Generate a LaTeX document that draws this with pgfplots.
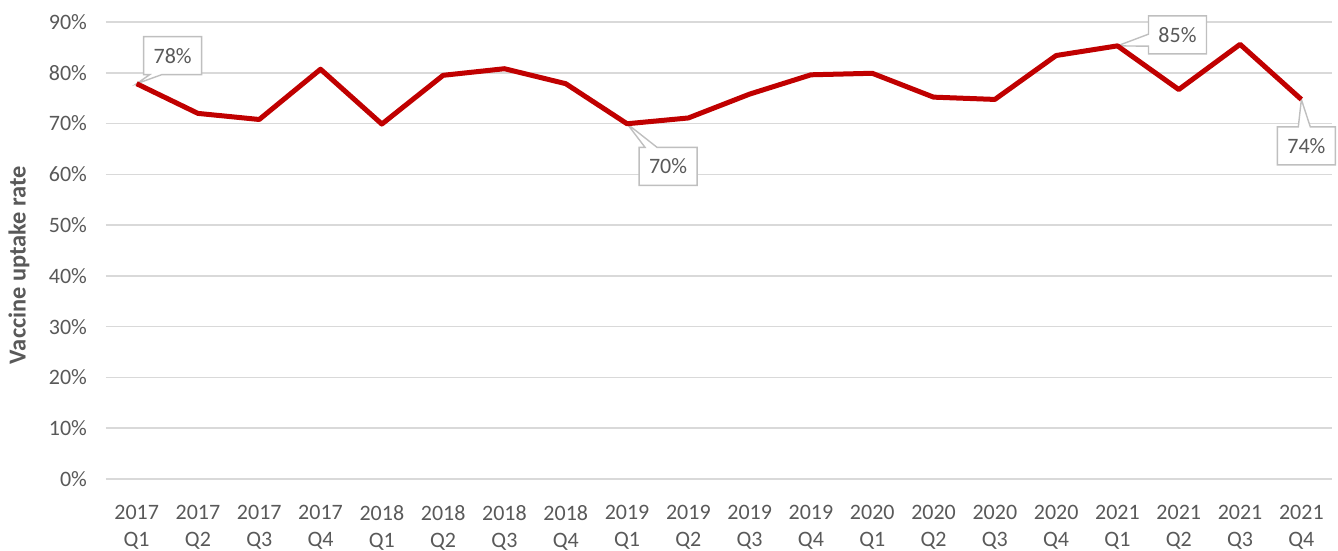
\documentclass[border=0pt]{standalone}
\usepackage{fontspec}
\setmainfont{Carlito}
\usepackage{pgfplots}
\pgfplotsset{compat=1.18}
\usetikzlibrary{shapes.callouts}
\definecolor{linered}{HTML}{C00000}
\definecolor{gridc}{HTML}{D9D9D9}
\definecolor{txt}{HTML}{595959}
\definecolor{boxc}{HTML}{BFBFBF}
\tikzset{
  lab/.style={rectangle callout, draw=boxc, fill=white, line width=0.7pt,
              text=txt, font=\fontsize{11}{13}\selectfont,
              minimum width=29pt, minimum height=19pt, inner sep=2pt,
              callout pointer width=6pt},
}
\begin{document}
\begin{tikzpicture}
\begin{axis}[
  scale only axis,
  width=613pt, height=228.5pt,
  xmin=-0.5, xmax=19.5,
  ymin=0, ymax=90,
  ytick={0,10,...,90},
  yticklabel={\pgfmathprintnumber{\tick}\%},
  /pgf/number format/assume math mode=true,
  xtick={0,...,19},
  xticklabels={{2017\\Q1},{2017\\Q2},{2017\\Q3},{2017\\Q4},
               {2018\\Q1},{2018\\Q2},{2018\\Q3},{2018\\Q4},
               {2019\\Q1},{2019\\Q2},{2019\\Q3},{2019\\Q4},
               {2020\\Q1},{2020\\Q2},{2020\\Q3},{2020\\Q4},
               {2021\\Q1},{2021\\Q2},{2021\\Q3},{2021\\Q4}},
  xticklabel style={align=center, text=txt, font=\fontsize{11}{13.5}\selectfont, yshift=-9.5pt},
  yticklabel style={text=txt, font=\fontsize{11}{13}\selectfont, xshift=-6pt},
  ymajorgrids,
  grid style={draw=gridc, line width=0.75pt},
  axis line style={draw=none},
  major tick length=0pt,
  ylabel={\textbf{Vaccine uptake rate}},
  ylabel style={at={(axis description cs:-0.071,0.468)}, anchor=center,
                text=txt, font=\fontsize{12.2}{14}\selectfont},
  clip=false,
]
\node[lab, xshift=18pt, yshift=14pt, callout absolute pointer={(axis cs:0,77.85)}] at (axis cs:0,77.85) {78\%};
\node[lab, xshift=20.5pt, yshift=-21.3pt, callout absolute pointer={(axis cs:8,69.96)}] at (axis cs:8,69.96) {70\%};
\node[lab, xshift=30pt, yshift=5.5pt, callout absolute pointer={(axis cs:16,85.3)}] at (axis cs:16,85.3) {85\%};
\node[lab, xshift=2.5pt, yshift=-23.25pt, callout absolute pointer={(axis cs:19,74.75)}] at (axis cs:19,74.75) {74\%};
\addplot[draw=linered, line width=2.5pt, line join=round, mark=none] table {
x y
0 77.85
1 72.0
2 70.8
3 80.7
4 69.9
5 79.5
6 80.8
7 77.85
8 69.96
9 71.1
10 75.8
11 79.6
12 79.9
13 75.2
14 74.75
15 83.4
16 85.3
17 76.7
18 85.6
19 74.75
};
\end{axis}
\pgfresetboundingbox
\path ([shift={(-53pt,-36pt)}]current axis.south west) rectangle ([shift={(3pt,11pt)}]current axis.north east);
\end{tikzpicture}
\end{document}
